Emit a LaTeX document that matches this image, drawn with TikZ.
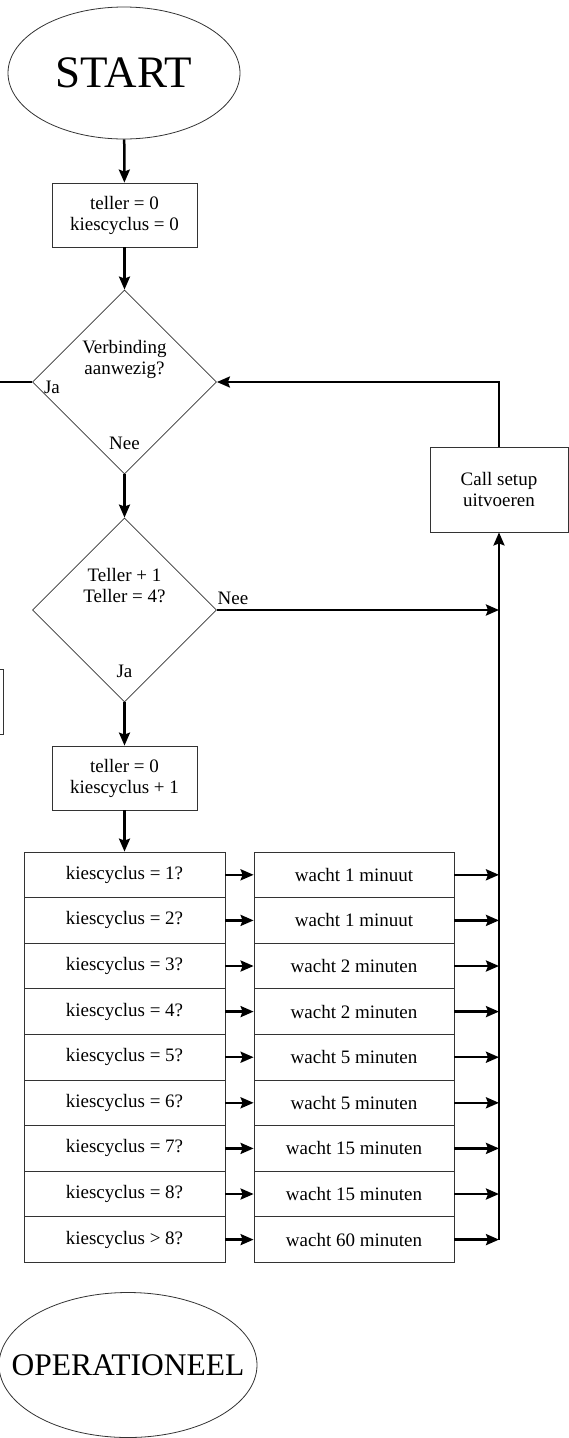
\documentclass[tikz,border=0pt]{standalone}
\usepackage{fontspec}
\setmainfont{Liberation Serif}
\usetikzlibrary{shapes.geometric, arrows.meta, positioning}

\begin{document}
\begin{tikzpicture}[x=1pt,y=1pt,
    flow/.style={line width=2.5pt,-{Stealth[length=13pt,width=11pt,inset=2pt]}},
    wire/.style={line width=2.5pt},
    blok/.style={draw=black!80,line width=0.8pt,rectangle,align=center,inner sep=0pt,font=\fontsize{19}{21}\selectfont},
    keuze/.style={draw=black!80,line width=0.8pt,diamond,minimum width=184pt,minimum height=184pt,inner sep=0pt},
    eind/.style={draw=black!80,line width=0.8pt,ellipse,inner sep=0pt},
    tekst/.style={align=center,inner sep=0pt,font=\fontsize{19}{21}\selectfont}]
  \useasboundingbox (0,0) rectangle (569,-1438);

  % begin en initialisatie
  \node[eind,minimum width=232pt,minimum height=132pt,font=\fontsize{45}{48}\selectfont] (start) at (124,-73) {START};
  \node[blok,minimum width=145pt,minimum height=64pt] (init) at (124.5,-215) {teller = 0\\kiescyclus = 0};

  % verbinding aanwezig?
  \node[keuze] (verb) at (124.5,-382) {};
  \node[tekst] (verbtxt) at (124.5,-359) {Verbinding\\aanwezig?};
  \node[tekst] (javerb) at (52,-387) {Ja};
  \node[tekst] (neeverb) at (124.5,-443) {Nee};
  \coordinate (jarand) at (0,-382);

  % call setup
  \node[blok,minimum width=138pt,minimum height=85pt] (call) at (499,-489.5) {Call setup\\uitvoeren};

  % teller ophogen
  \node[keuze] (teller) at (124.5,-610) {};
  \node[tekst] (tellertxt) at (124.5,-586) {Teller + 1\\Teller = 4?};
  \node[tekst] (neeteller) at (233,-598) {Nee};
  \node[tekst] (jateller) at (124.5,-671) {Ja};
  \coordinate (neebus) at (499,-610);

  \node[blok,minimum width=145pt,minimum height=64pt] (reset) at (124.5,-778) {teller = 0\\kiescyclus + 1};

  % afgesneden blok links
  \draw[draw=black!80,line width=0.8pt] (0,-669) -- (3,-669) -- (3,-734) -- (0,-734);

  % einde
  \node[eind,minimum width=258pt,minimum height=145pt] (oper) at (128,-1365) {};
  \node[inner sep=0pt,font=\fontsize{31.5}{34}\selectfont] (opertxt) at (oper) {OPERATIONEEL};

  % kiescycli en wachttijden
  \foreach \vraag/\wacht [count=\i] in {kiescyclus = 1?/wacht 1 minuut,
      kiescyclus = 2?/wacht 1 minuut, kiescyclus = 3?/wacht 2 minuten,
      kiescyclus = 4?/wacht 2 minuten, kiescyclus = 5?/wacht 5 minuten,
      kiescyclus = 6?/wacht 5 minuten, kiescyclus = 7?/wacht 15 minuten,
      kiescyclus = 8?/wacht 15 minuten, kiescyclus > 8?/wacht 60 minuten}{
    \node[blok,minimum width=201pt,minimum height=45.6pt] (k\i) at (124.5,{-874.8-(\i-1)*45.6}) {\vraag};
    \node[blok,minimum width=200pt,minimum height=45.6pt] (w\i) at (354,{-874.8-(\i-1)*45.6}) {\wacht};
    \coordinate (b\i) at (499,{-874.8-(\i-1)*45.6});
    \draw[flow] (k\i) -- (w\i);
    \draw[flow] (w\i) -- (b\i);
  }

  % verbindingen
  \draw[flow] (start) -- (init);
  \draw[flow] (init) -- (verb);
  \draw[wire] (verb.west) -- (jarand);
  \draw[flow] (verb) -- (teller);
  \draw[flow] (teller.east) -- (neebus);
  \draw[flow] (teller) -- (reset);
  \draw[flow] (reset) -- (k1);
  \draw[flow] (b9) -- (call.south);
  \draw[flow] (call.north) |- (verb.east);
\end{tikzpicture}
\end{document}
